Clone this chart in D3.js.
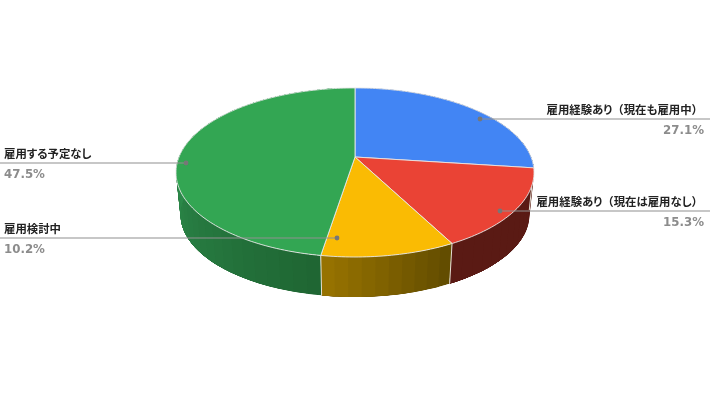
<!DOCTYPE html>
<html>
<head>
<meta charset="utf-8">
<title>雇用経験</title>
<script src="https://d3js.org/d3.v7.min.js"></script>
<style>
	html, body { margin: 0; background: #fff; overflow: hidden; }
	svg { display: block; }
	.name { font: bold 11.4px "Noto Sans CJK JP", sans-serif; font-feature-settings: "palt"; fill: #222; }
	.name .paren { font-feature-settings: "palt" 0; }
	.pct { font: bold 11.8px "DejaVu Sans", sans-serif; fill: #8c8c8c; }
</style>
</head>
<body>
<script>
	// data
	const categories = ['雇用経験あり（現在も雇用中）', '雇用経験あり（現在は雇用なし）', '雇用検討中', '雇用する予定なし'];
	const shares = [27.1, 15.3, 10.2, 47.5];
	const topColors = ['#4285f4', '#ea4335', '#fabb03', '#33a653'];
	// wall colour at the start and end of each slice (clockwise)
	const wallStart = ['#1d3f78', '#5a1a14', '#634d00', '#1f6633'];
	const wallEnd = ['#1d3f78', '#5a1a14', '#9c7600', '#3db568'];

	// leader lines are placed by hand, same as in the original
	const anchorX = [480, 500, 337, 186];
	const anchorY = [119, 211, 238, 163];
	const side = ['right', 'right', 'left', 'left'];

	const width = 710, height = 400;
	const cx = 355, cy = 157;      // where the slices meet
	const a = 176, b = 81.7;       // pie radii
	const k = -0.183;              // perspective
	const depth = 42.5, shrink = 0.975;
	const bandStep = 0.07;         // the wall shade goes in visible bands
	const fineStep = 0.02;

	const svg = d3.select('body').append('svg')
		.attr('width', width)
		.attr('height', height)
		.style('filter', 'blur(0.4px)');

	const line = d3.line();

	// angle clockwise from 12 o'clock -> screen point, r = 1 is the rim
	function project(angle, r, low) {
		const u = Math.sin(angle) * r, v = -Math.cos(angle) * r;
		const den = 1 + k * v;
		const s = low ? shrink : 1;
		return [cx + s * a * u / den, cy + (low ? depth : 0) + s * b * v / den];
	}

	function sample(start, end, step) {
		const n = Math.max(2, Math.ceil((end - start) / step));
		return d3.range(n + 1).map(i => start + (end - start) * i / n);
	}

	// one path made of small quads, all wound the same way so they add up.
	// a plain outline fails because the two rims cross at the far left and right
	function wallPath(start, end) {
		return d3.pairs(sample(start, end, fineStep)).map(p => {
			const quad = [project(p[0], 1), project(p[1], 1), project(p[1], 1, true), project(p[0], 1, true)];
			if (d3.polygonArea(quad) < 0) quad.reverse();
			return line(quad) + 'Z';
		}).join('');
	}

	const arcs = d3.pie().sort(null).startAngle(0).endAngle(2 * Math.PI)(shares);

	const walls = svg.append('g');
	arcs.forEach((d, i) => {
		const shade = d3.scaleLinear().domain([d.startAngle, d.endAngle]).range([wallStart[i], wallEnd[i]]);
		svg.append('clipPath')
			.attr('id', 'wall' + i)
			.append('path')
			.attr('d', wallPath(d.startAngle, d.endAngle));
		const g = walls.append('g').attr('clip-path', 'url(#wall' + i + ')');
		// each band runs on to the end of the slice, the next one paints over it
		sample(d.startAngle, d.endAngle, bandStep).slice(0, -1).forEach(t => {
			g.append('path')
				.attr('d', wallPath(t, d.endAngle))
				.attr('fill', shade(t));
		});
	});
	// seams between walls
	arcs.forEach(d => {
		walls.append('path')
			.attr('d', line([project(d.startAngle, 1), project(d.startAngle, 1, true)]))
			.attr('stroke', '#e4e0d4')
			.attr('stroke-width', 1);
	});

	// top face
	svg.append('g').selectAll('path')
		.data(arcs)
		.join('path')
		.attr('d', d => {
			const rim = sample(d.startAngle, d.endAngle, fineStep).map(t => project(t, 1));
			return line([[cx, cy], ...rim]) + 'Z';
		})
		.attr('fill', (d, i) => topColors[i])
		.attr('stroke', '#e6e6e6')
		.attr('stroke-width', 0.9)
		.attr('stroke-linejoin', 'round');

	// labels
	const labels = svg.append('g');
	categories.forEach((name, i) => {
		const right = side[i] === 'right';
		const x = anchorX[i], y = anchorY[i];
		labels.append('line')
			.attr('x1', x).attr('y1', y)
			.attr('x2', right ? width : 0).attr('y2', y)
			.attr('stroke', '#8f8f8f')
			.attr('stroke-width', 1.1);
		labels.append('circle')
			.attr('cx', x).attr('cy', y).attr('r', 2.4)
			.attr('fill', '#777');
		const text = labels.append('text')
			.attr('class', 'name')
			.attr('x', right ? 703 : 4)
			.attr('y', y - 5)
			.attr('text-anchor', right ? 'end' : 'start');
		// the brackets keep their full width
		name.split(/([（）])/).filter(s => s).forEach(s => {
			text.append('tspan')
				.attr('class', /[（）]/.test(s) ? 'paren' : null)
				.text(s);
		});
		labels.append('text')
			.attr('class', 'pct')
			.attr('x', right ? 704 : 4)
			.attr('y', y + 15)
			.attr('text-anchor', right ? 'end' : 'start')
			.text(d3.format('.1f')(shares[i]) + '%');
	});
</script>
</body>
</html>
